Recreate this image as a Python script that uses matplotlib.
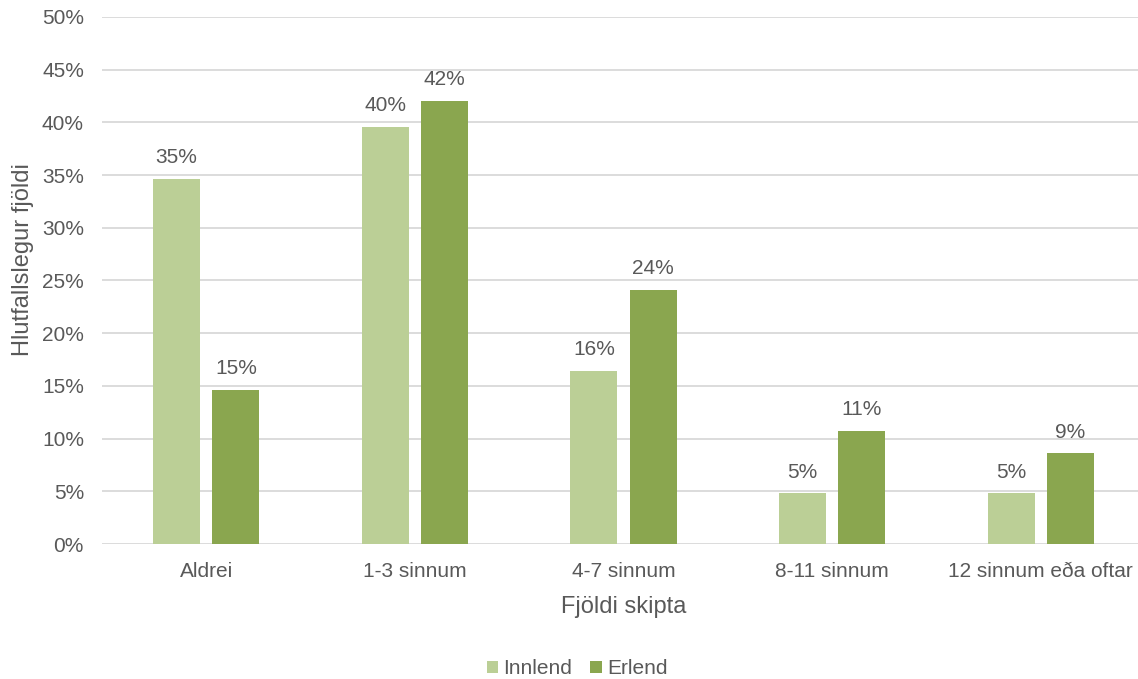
import numpy as np
import matplotlib
matplotlib.use("Agg")
import matplotlib.pyplot as plt
from matplotlib.ticker import FuncFormatter

plt.rcParams["font.family"] = ["Liberation Sans", "DejaVu Sans"]

categories = ["Aldrei", "1-3 sinnum", "4-7 sinnum", "8-11 sinnum", "12 sinnum eða oftar"]
innlend = [34.6, 39.6, 16.4, 4.8, 4.8]
erlend = [14.6, 42.0, 24.1, 10.7, 8.6]
series_names = ["Innlend", "Erlend"]

TEXT = "#595959"
GRID = "#D9D9D9"
COLORS = ["#BBCF96", "#8AA64F"]

fig = plt.figure(figsize=(11.38, 6.79), dpi=100)
ax = fig.add_axes([0.0896, 0.1988, 0.9166, 0.7762])

x = np.arange(len(categories))
width = 0.225
offset = 0.142

for vals, name, color, sign in zip([innlend, erlend], series_names, COLORS, [-1, 1]):
    bars = ax.bar(x + sign * offset, vals, width, color=color, label=name, zorder=3)
    for rect, v in zip(bars, vals):
        ax.annotate(f"{v:.0f}%", (rect.get_x() + rect.get_width() / 2, v),
                    xytext=(0, 8.5), textcoords="offset points",
                    ha="center", va="bottom", fontsize=15, color=TEXT)

ax.set_xlim(-0.5, len(categories) - 0.5)
ax.set_ylim(0, 50)
ax.set_yticks(np.arange(0, 51, 5))
ax.yaxis.set_major_formatter(FuncFormatter(lambda v, _: f"{v:.0f}%"))
ax.set_xticks(x)
ax.set_xticklabels(categories)

ax.grid(axis="y", color=GRID, linewidth=1.3, zorder=0)
ax.set_axisbelow(True)
for side in ["top", "right", "left", "bottom"]:
    ax.spines[side].set_visible(False)

ax.tick_params(axis="both", length=0, labelsize=15, labelcolor=TEXT)
ax.tick_params(axis="y", pad=13)
ax.tick_params(axis="x", pad=13)

ax.set_xlabel("Fjöldi skipta", fontsize=17, color=TEXT, labelpad=11)
ax.set_ylabel("Hlutfallslegur fjöldi", fontsize=17, color=TEXT, labelpad=6)
ax.yaxis.label.set_y(0.54)

fig.legend(loc="center", bbox_to_anchor=(577 / 1138, 1 - 669 / 679), ncol=2,
           frameon=False, fontsize=15, labelcolor=TEXT,
           handlelength=0.55, handleheight=0.55, handletextpad=0.25, columnspacing=0.87)

fig.savefig("out.png", dpi=100)
